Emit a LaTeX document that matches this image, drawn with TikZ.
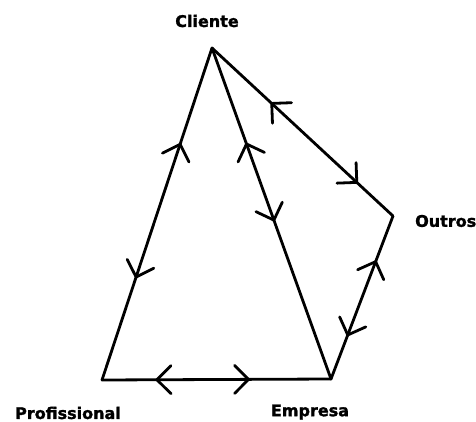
\documentclass[tikz,border=0pt]{standalone}
\usepackage{fontspec}
\setmainfont{DejaVu Sans}[BoldFeatures={FakeBold=1.6}]
\usetikzlibrary{decorations.markings}
\tikzset{
  link/.style={line width=2.8pt, line cap=round, line join=round},
  % open chevron pointing along the path direction
  tipfwd/.style={postaction={decorate, decoration={markings,
      mark=at position #1 with {\draw[link] (-14pt,14pt)--(0pt,0pt)--(-14pt,-14pt);}}}},
  % open chevron pointing back toward the path start
  tipback/.style={postaction={decorate, decoration={markings,
      mark=at position #1 with {\draw[link] (14pt,14pt)--(0pt,0pt)--(14pt,-14pt);}}}},
  lbl/.style={inner sep=0pt, font=\fontsize{16}{18}\selectfont\bfseries}
}
\begin{document}
\begin{tikzpicture}[x=1pt, y=-1pt]
  \useasboundingbox (0,0) rectangle (476,422);
  % vertices
  \coordinate (C) at (212,48);
  \coordinate (P) at (102,380);
  \coordinate (E) at (331,379);
  \coordinate (O) at (393,216);
  % labels
  \node[lbl] (lc) at (207,21) {Cliente};
  \node[lbl, anchor=west] (lo) at (415,221) {Outros};
  \node[lbl] (lp) at (68,413) {Profissional};
  \node[lbl] (le) at (310,412) {Empresa};
  % connectors
  \draw[link, tipback=0.29, tipfwd=0.69] (C) -- (P);
  \draw[link, tipback=0.29, tipfwd=0.52] (C) -- (E);
  \draw[link, tipback=0.33, tipfwd=0.80] (C) -- (O);
  \draw[link, tipback=0.28, tipfwd=0.73] (O) -- (E);
  \draw[link, tipback=0.24, tipfwd=0.64] (P) -- (E);
\end{tikzpicture}
\end{document}
